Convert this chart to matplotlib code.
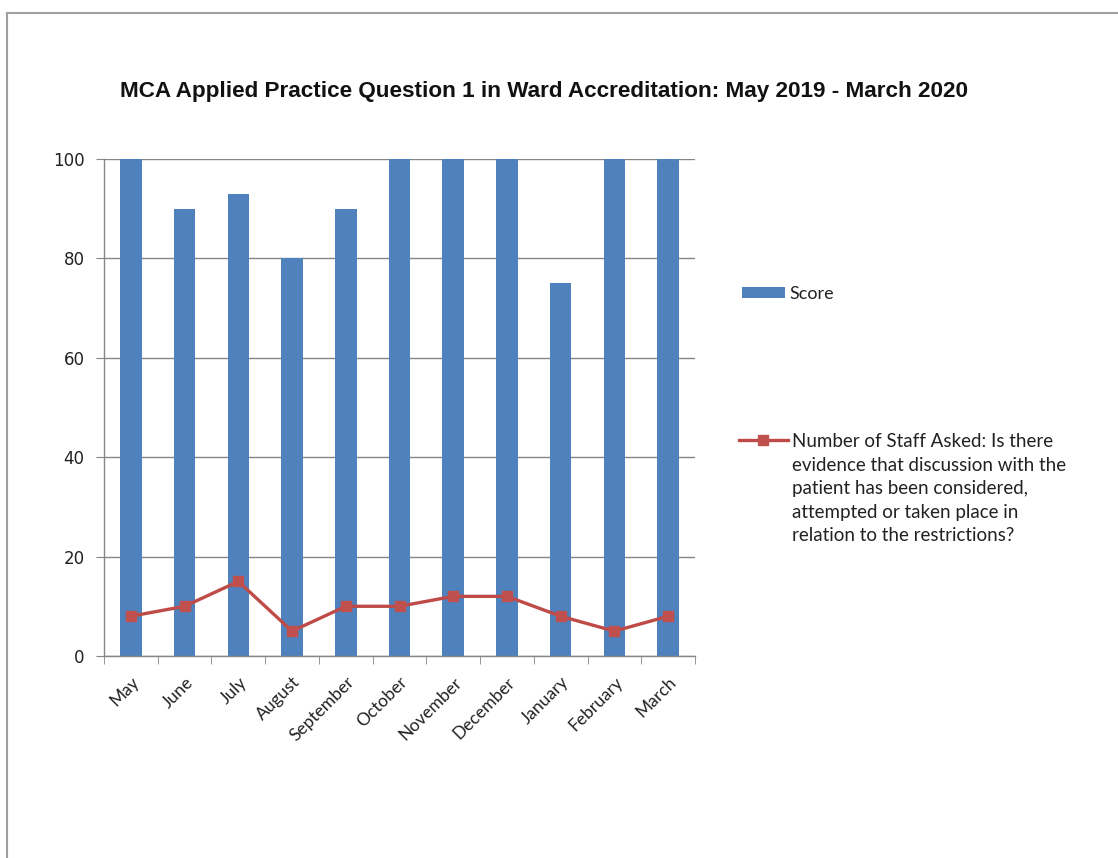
import numpy as np
import matplotlib.pyplot as plt
from matplotlib.lines import Line2D

# Data
#-----------------------------------------------------------------------------#
months = ['May', 'June', 'July', 'August', 'September', 'October',
          'November', 'December', 'January', 'February', 'March']
score  = [100, 90, 93, 80, 90, 100, 100, 100, 75, 100, 100]
staff  = [8, 10, 15, 5, 10, 10, 12, 12, 8, 5, 8]

title      = 'MCA Applied Practice Question 1 in Ward Accreditation: May 2019 - March 2020'
lbl_score  = 'Score'
lbl_staff  = ('Number of Staff Asked: Is there\nevidence that discussion with the\n'
              'patient has been considered,\nattempted or taken place in\n'
              'relation to the restrictions?')

bar_col  = '#4F81BD'
line_col = '#BE4B48'
grid_col = '#868686'

# Figure
#-----------------------------------------------------------------------------#
fig = plt.figure(figsize=(11.18, 8.58), dpi=100)
ax  = fig.add_axes([104/1118, 1-656/858, (695-104)/1118, (656-159)/858])

x = np.arange(len(months))
ax.bar(x, score, width=0.4, color=bar_col, zorder=2, label=lbl_score)
ln, = ax.plot(x, staff, '-s', color=line_col, linewidth=2.4, markersize=7,
              markerfacecolor='#C0504D', markeredgecolor='#C0504D', zorder=3,
              label=lbl_staff)

ax.set_xlim(-0.5, len(months)-0.5)
ax.set_ylim(0, 100)
ax.set_yticks(np.arange(0, 101, 20))
ax.grid(axis='y', color=grid_col, linewidth=1, zorder=0)
for s in ['top', 'right']:
    ax.spines[s].set_visible(False)
for s in ['left', 'bottom']:
    ax.spines[s].set_color(grid_col)
    ax.spines[s].set_linewidth(1)

ax.tick_params(axis='y', length=6, color=grid_col, pad=8)
for t in ax.get_yticklabels():
    t.set_family('DejaVu Sans')
    t.set_fontsize(12)
    t.set_color('#222222')
ax.set_xticks(x)
ax.set_xticklabels(months, rotation=45, ha='right', rotation_mode='anchor',
                   fontsize=12.5, family='Lato', color='#222222')
ax.tick_params(axis='x', which='major', length=0, pad=13)
ax.set_xticks(np.arange(-0.5, len(months)), minor=True)
ax.tick_params(axis='x', which='minor', length=6, color=grid_col)

# Title
#-----------------------------------------------------------------------------#
fig.text(544/1118, 1-92/858, title, ha='center', va='center', fontsize=16.2,
         fontweight='bold', family='Liberation Sans', color='#111111')

# Legends
#-----------------------------------------------------------------------------#
bars = ax.containers[0]
leg1 = fig.legend(handles=[bars], labels=[lbl_score], loc='center left',
                  bbox_to_anchor=(742/1118, 1-294/858), frameon=False,
                  borderpad=0, borderaxespad=0, handlelength=2.4,
                  handleheight=0.5, handletextpad=0.2,
                  prop={'family': 'Lato', 'size': 13})
leg2 = fig.legend(handles=[ln], labels=[lbl_staff], loc='upper left',
                  bbox_to_anchor=(739/1118, 1-433/858), frameon=False,
                  borderpad=0, borderaxespad=0, handlelength=2.6,
                  handletextpad=0.2, prop={'family': 'Lato', 'size': 13.5})
for t in leg1.get_texts() + leg2.get_texts():
    t.set_color('#222222')
leg2.get_texts()[0].set_linespacing(1.47)
for col in leg2._legend_handle_box.get_children():
    for row in col.get_children():
        row.align = 'top'

# Border
#-----------------------------------------------------------------------------#
fig.add_artist(Line2D([7/1118, 1], [1-13/858, 1-13/858], color='#A0A0A0',
                      linewidth=1.5, transform=fig.transFigure))
fig.add_artist(Line2D([7/1118, 7/1118], [0, 1-13/858], color='#A0A0A0',
                      linewidth=1.5, transform=fig.transFigure))

fig.savefig('out.png', dpi=100)
